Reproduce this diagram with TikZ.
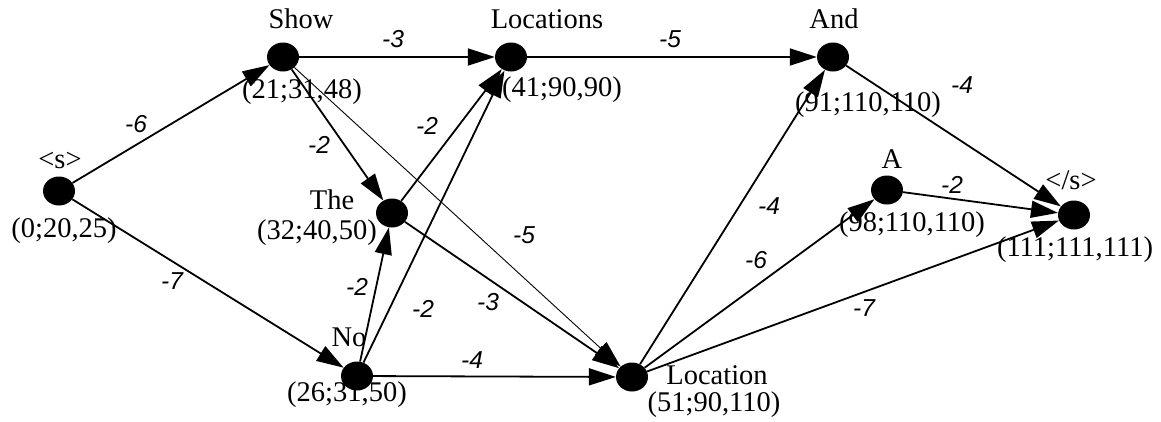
\documentclass[tikz,border=0pt]{standalone}
\usepackage{fontspec}
\setmainfont{Liberation Serif}
\newfontfamily\edgefont{Liberation Sans}
\usetikzlibrary{arrows.meta,shapes.geometric}
\begin{document}
\begin{tikzpicture}[x=1pt,y=-1pt,
  dot/.style={ellipse,fill=black,minimum width=32pt,minimum height=29pt,inner sep=0pt},
  lbl/.style={font=\fontsize{28.5}{30}\selectfont,inner sep=0pt},
  wt/.style={font=\edgefont\itshape\fontsize{24.5}{26}\selectfont,inner sep=0pt},
  edge/.style={line width=1.8pt,-{Triangle[length=27pt,width=17pt]}},
  thinedge/.style={line width=0.9pt,-{Triangle[length=27pt,width=17pt]}}
]
\useasboundingbox (0,0) rectangle (1161,421);
% nodes
\node[dot] (s0)  at (59,191) {};
\node[dot] (show) at (283,57) {};
\node[dot] (locs) at (511,57) {};
\node[dot] (and) at (833,57) {};
\node[dot] (the) at (392,213) {};
\node[dot] (no) at (357,376) {};
\node[dot] (loc) at (632,377) {};
\node[dot] (a) at (887,190) {};
\node[dot] (se) at (1074,215) {};
% labels
\node[lbl] (s0w) at (60,160) {<s>};
\node[lbl] (s0n) at (64,231) {(0;20,25)};
\node[lbl] (showw) at (301,19) {Show};
\node[lbl] (shown) at (302,92) {(21;31,48)};
\node[lbl] (locsw) at (547,19) {Locations};
\node[lbl] (locsn) at (562,90) {(41;90,90)};
\node[lbl] (andw) at (834,19) {And};
\node[lbl] (andn) at (868,105) {(91;110,110)};
\node[lbl] (thew) at (332,200) {The};
\node[lbl] (then) at (317,233) {(32;40,50)};
\node[lbl] (now) at (349,337) {No};
\node[lbl] (non) at (347,395) {(26;31,50)};
\node[lbl] (locw) at (717,375) {Location};
\node[lbl] (locn) at (714,405) {(51;90,110)};
\node[lbl] (aw) at (892,159) {A};
\node[lbl] (an) at (912,225) {(98;110,110)};
\node[lbl] (sew) at (1071,180) {</s>};
\node[lbl] (sen) at (1075,250) {(111;111,111)};
% edges
\draw[edge] (s0) -- (show);
\draw[edge] (s0) -- (no);
\draw[edge] (show) -- (locs);
\draw[edge] (show) -- (the);
\draw[thinedge] (show) -- (loc);
\draw[edge] (locs) -- (and);
\draw[edge] (the) -- (locs);
\draw[edge] (the) -- (loc);
\draw[edge] (no) -- (the);
\draw[edge] (no) -- (locs);
\draw[edge] (no) -- (loc);
\draw[edge] (and) -- (se);
\draw[edge] (loc) -- (and);
\draw[edge] (loc) -- (a);
\draw[edge] (loc) -- (se);
\draw[edge] (a) -- (se);
% weights
\node[wt] (w1) at (136,124) {-6};
\node[wt] (w2) at (172,281) {-7};
\node[wt] (w3) at (393,39) {-3};
\node[wt] (w4) at (670,39) {-5};
\node[wt] (w5) at (962,85) {-4};
\node[wt] (w6) at (319,145) {-2};
\node[wt] (w7) at (427,126) {-2};
\node[wt] (w8) at (524,235) {-5};
\node[wt] (w9) at (357,287) {-2};
\node[wt] (w10) at (423,309) {-2};
\node[wt] (w11) at (488,302) {-3};
\node[wt] (w12) at (472,360) {-4};
\node[wt] (w13) at (769,206) {-4};
\node[wt] (w14) at (756,260) {-6};
\node[wt] (w15) at (864,308) {-7};
\node[wt] (w16) at (952,185) {-2};
\end{tikzpicture}
\end{document}
